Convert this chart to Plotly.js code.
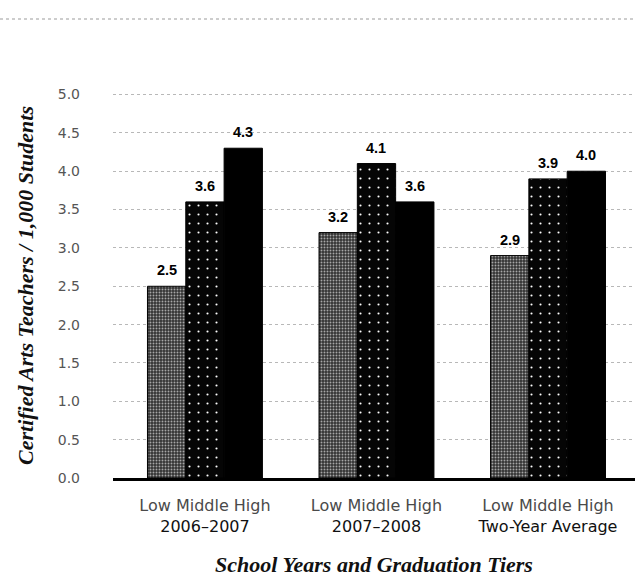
<!DOCTYPE html>
<html>
<head>
<meta charset="utf-8">
<script src="https://cdn.plot.ly/plotly-3.0.1.min.js"></script>
<style>
  html, body { margin: 0; padding: 0; background: #ffffff; }
  #chart { width: 635px; height: 581px; }
</style>
</head>
<body>
<div id="chart"></div>
<script>
// School-year groups on the x axis and the three graduation tiers in each group
const groups = ['2006–2007', '2007–2008', 'Two-Year Average'];
const tiers = ['Low', 'Middle', 'High'];

// Certified arts teachers per 1,000 students
const lowValues = [2.5, 3.2, 2.9];
const middleValues = [3.6, 4.1, 3.9];
const highValues = [4.3, 3.6, 4.0];

// Value axis ticks
const yTickValues = [0, 0.5, 1.0, 1.5, 2.0, 2.5, 3.0, 3.5, 4.0, 4.5, 5.0];

// Page geometry
const W = 635, H = 581;
const M = { l: 113, r: 0, t: 93, b: 103 };
const plotW = W - M.l - M.r;
const plotH = H - M.t - M.b;
const BAR_GAP = 0.33;
const barWidth = (1 - BAR_GAP) / tiers.length;

const groupIdx = groups.map((_, i) => i);

// Fill styles: halftone grey, black with sparse white dots, solid black
const tierStyles = [
  { color: '#333333', pattern: { shape: '.', bgcolor: '#333333', fgcolor: '#a6a6a6', size: 3, solidity: 0.32 } },
  { color: '#050505', pattern: { shape: '.', bgcolor: '#050505', fgcolor: '#ffffff', size: 9, solidity: 0.045 } },
  { color: '#000000', pattern: { shape: '' } }
];

const seriesValues = [lowValues, middleValues, highValues];

const traces = seriesValues.map((vals, s) => ({
  type: 'bar',
  name: tiers[s],
  x: groupIdx,
  y: vals,
  marker: {
    color: tierStyles[s].color,
    pattern: tierStyles[s].pattern,
    line: { color: '#000000', width: 1 }
  },
  hoverinfo: 'skip'
}));

// Value labels sitting just above each bar
const annotations = [];
seriesValues.forEach((vals, s) => {
  vals.forEach((v, i) => {
    annotations.push({
      x: i + (s - 1) * barWidth,
      y: v,
      xref: 'x', yref: 'y',
      text: v.toFixed(1),
      showarrow: false,
      xanchor: 'center', yanchor: 'bottom',
      yshift: 6,
      font: { family: 'Liberation Sans, Arial, sans-serif', size: 14.5, color: '#000000', weight: 'bold' }
    });
  });
});

const tickText = groups.map(g =>
  '<span style="color:#4a4a4a">Low Middle High</span><br>' + g);

// Faint dotted rule across the top of the page
const ruleY = 1 + (M.t - 19) / plotH;
const shapes = [{
  type: 'line', xref: 'paper', yref: 'paper', layer: 'above',
  x0: -M.l / plotW, x1: 1, y0: ruleY, y1: ruleY,
  line: { color: '#bdbdbd', width: 1.5, dash: 'dot' }
}];

const layout = {
  width: W, height: H,
  margin: M,
  paper_bgcolor: '#ffffff',
  plot_bgcolor: '#ffffff',
  showlegend: false,
  barmode: 'group',
  bargap: BAR_GAP,
  bargroupgap: 0,
  xaxis: {
    range: [-0.536, 2.507],
    tickvals: groupIdx,
    ticktext: tickText,
    ticks: '',
    showgrid: false,
    zeroline: false,
    showline: true,
    linecolor: '#000000',
    linewidth: 3,
    ticklabelstandoff: 11,
    tickfont: { family: 'DejaVu Sans, sans-serif', size: 16, color: '#111111' },
    title: {
      text: 'School Years and Graduation Tiers',
      standoff: 22,
      font: { family: 'Liberation Serif, serif', size: 22, color: '#111111', style: 'italic', weight: 'bold' }
    }
  },
  yaxis: {
    range: [0, 5.02],
    tickvals: yTickValues,
    tickformat: '.1f',
    ticks: '',
    showgrid: true,
    gridcolor: '#b8b8b8',
    griddash: 'dot',
    gridwidth: 1,
    zeroline: false,
    showline: false,
    ticklabelstandoff: 32,
    tickfont: { family: 'DejaVu Sans, sans-serif', size: 14, color: '#555555' },
    title: {
      text: 'Certified Arts Teachers / 1,000 Students',
      standoff: 18,
      font: { family: 'Liberation Serif, serif', size: 22, color: '#111111', style: 'italic', weight: 'bold' }
    }
  },
  annotations: annotations,
  shapes: shapes
};

Plotly.newPlot('chart', traces, layout, { displayModeBar: false, staticPlot: true });
</script>
</body>
</html>
